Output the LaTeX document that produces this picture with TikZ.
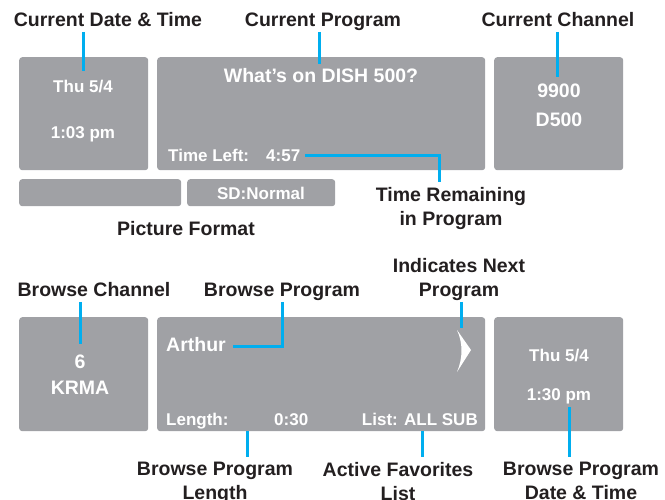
\documentclass[tikz,border=0pt]{standalone}
\usepackage{fontspec}
\setmainfont{Liberation Sans}
\definecolor{panelgray}{HTML}{A0A1A5}
\definecolor{callblue}{HTML}{00AEEF}
\definecolor{inkblack}{HTML}{231F20}
\tikzset{
    panel/.style={fill=panelgray, rounded corners=3pt, inner sep=0pt, anchor=north west},
    lbl/.style={text=inkblack, font=\bfseries\fontsize{19.5}{24}\selectfont,
        align=center, inner xsep=0pt, inner ysep=5pt, text depth=0pt},
    big/.style={text=white, font=\bfseries\fontsize{19.5}{24}\selectfont, anchor=base},
    small/.style={text=white, font=\bfseries\fontsize{17}{20}\selectfont, anchor=base},
    conn/.style={callblue, line width=3pt},
}
\begin{document}
\begin{tikzpicture}[x=1pt, y=-1pt]
    \useasboundingbox (0,0) rectangle (665,500);

    % panneaux du haut
    \node[panel, minimum width=129, minimum height=113] (datebox) at (19,57) {};
    \node[panel, minimum width=328, minimum height=113] (progbox) at (157,57) {};
    \node[panel, minimum width=129, minimum height=113] (chanbox) at (494,57) {};
    \node[panel, minimum width=162, minimum height=27] (fmtboxa) at (19,179) {};
    \node[panel, minimum width=148, minimum height=27] (fmtboxb) at (187,179) {};

    % textes du haut
    \node[small] (curday) at (83,93) {Thu 5/4};
    \node[small] (curtime) at (83,138.5) {1:03 pm};
    \node[big] (whatson) at (321,83) {What’s on DISH 500?};
    \node[small, anchor=base west, inner xsep=0pt] (timeleft) at (168,162) {Time Left:};
    \node[small, anchor=base west, inner xsep=0pt] (timeval) at (266,162) {4:57};
    \node[big] (channum) at (559,98) {9900};
    \node[big] (channame) at (559,127) {D500};
    \node[small] (sdnormal) at (261,200) {SD:Normal};

    % panneaux du bas
    \node[panel, minimum width=129, minimum height=114] (bchanbox) at (19,317) {};
    \node[panel, minimum width=328, minimum height=114] (bprogbox) at (157,317) {};
    \node[panel, minimum width=129, minimum height=114] (bdatebox) at (494,317) {};

    % textes du bas
    \node[big] (bchannum) at (80,368) {6};
    \node[big] (bchanname) at (80,394) {KRMA};
    \node[big, anchor=base west, inner xsep=0pt] (arthur) at (166,352) {Arthur};
    \node[small, anchor=base west, inner xsep=0pt] (length) at (166,425) {Length:};
    \node[small, anchor=base west, inner xsep=0pt] (lengthval) at (274,425) {0:30};
    \node[small, anchor=base east, inner xsep=0pt] (favlist) at (478,425) {List: ALL SUB};
    \node[small] (bday) at (559,361) {Thu 5/4};
    \node[small] (btime) at (559,400) {1:30 pm};

    % fleche suivant
    \fill[white] (457,330) -- (471,350) -- (457,372)
        .. controls (463,358) and (463,343) .. (457,330);
    \coordinate (nextarrow) at (461,328);

    % etiquettes
    \node[lbl, anchor=south] (curdt) at (108,32) {Current Date \& Time};
    \node[lbl, anchor=south] (curprog) at (323,32) {Current Program};
    \node[lbl, anchor=south] (curchan) at (558,32) {Current Channel};
    \node[lbl, anchor=north] (timerem) at (451,182) {Time Remaining\\in Program};
    \node[lbl, anchor=north] (picfmt) at (186,216) {Picture Format};
    \node[lbl, anchor=south] (bchan) at (94,302) {Browse Channel};
    \node[lbl, anchor=south] (bprog) at (282,302) {Browse Program};
    \node[lbl, anchor=south] (nextprog) at (459,302) {Indicates Next\\Program};
    \node[lbl, anchor=north] (bproglen) at (215,457) {Browse Program\\Length};
    \node[lbl, anchor=north] (actfav) at (398,457) {Active Favorites\\List};
    \node[lbl, anchor=north] (bprogdt) at (581,457) {Browse Program\\Date \& Time};

    % traits
    \coordinate (curdt-end) at (83,71);
    \coordinate (curprog-end) at (319,64);
    \coordinate (curchan-end) at (557,77);
    \coordinate (timerem-bend) at (439,156);
    \coordinate (bchan-end) at (80,344);
    \coordinate (bprog-bend) at (282,346);
    \coordinate (bprogdt-start) at (569,407);
    \draw[conn] (curdt.south -| curdt-end) -- (curdt-end);
    \draw[conn] (curprog.south -| curprog-end) -- (curprog-end);
    \draw[conn] (curchan.south -| curchan-end) -- (curchan-end);
    \draw[conn] ([xshift=5pt]timeval.east |- timerem-bend) -- (timerem-bend)
        -- (timerem-bend |- timerem.north);
    \draw[conn] (bchan.south -| bchan-end) -- (bchan-end);
    \draw[conn] (bprog.south -| bprog-bend) -- (bprog-bend)
        -- ([xshift=7pt]arthur.east |- bprog-bend);
    \draw[conn] (nextprog.south -| nextarrow) -- (nextarrow);
    \draw[conn] (bprogbox.south -| 247,0) -- (bproglen.north -| 247,0);
    \draw[conn] (bprogbox.south -| 422,0) -- (actfav.north -| 422,0);
    \draw[conn] (bprogdt-start) -- (bprogdt.north -| bprogdt-start);

\end{tikzpicture}
\end{document}
